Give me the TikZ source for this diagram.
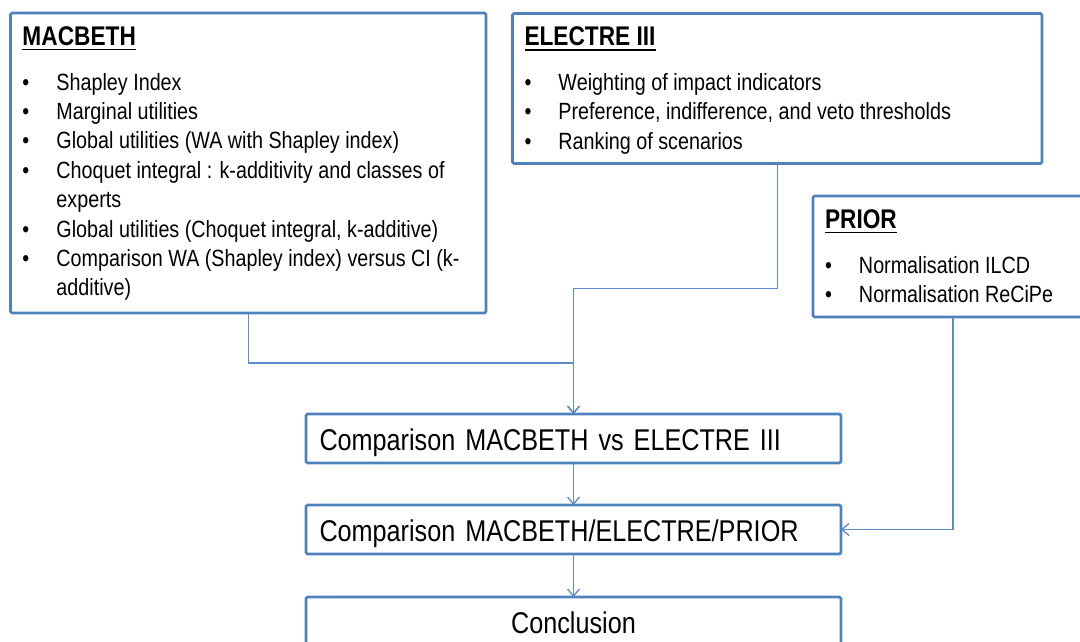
\documentclass[tikz,border=0pt]{standalone}
\usepackage{fontspec}
\setmainfont{Liberation Sans}[FakeStretch=0.84]
\usetikzlibrary{arrows.meta}

\definecolor{boxblue}{HTML}{4F81BD}
\definecolor{lineblue}{HTML}{5B8BC8}

% underlined bold heading of a panel
\newcommand{\uline}[1]{\setbox0\hbox{#1}\rlap{\rule[-5pt]{\wd0}{1.8pt}}\box0}
\newcommand{\heading}[1]{\noindent{\fontsize{27}{27}\selectfont\bfseries\uline{#1}}\par\vspace{15.3pt}}
\newcommand{\bul}[1]{\par\noindent\makebox[34pt][l]{\textbullet}\mbox{#1}}
\newcommand{\cont}[1]{\par\noindent\hspace*{34pt}\mbox{#1}}
\newcommand{\panelfont}{\fontsize{23.5}{29.4}\selectfont}
\newcommand{\stagefont}{\fontsize{30}{34}\selectfont\spaceskip=6.5pt\relax}

\tikzset{
  panel/.style={draw=boxblue, line width=2.7pt, rounded corners=1.5pt, fill=white,
    anchor=north west, outer sep=0pt, inner xsep=12pt, inner ysep=13.5pt},
  stage/.style={draw=boxblue, line width=2.7pt, rounded corners=1.5pt, fill=white,
    outer sep=0pt, inner xsep=13.5pt, inner ysep=0pt, text width=508pt,
    minimum height=49pt, text height=26pt, text depth=2pt, font=\stagefont},
  link/.style={draw=lineblue, line width=1.3pt, -{Straight Barb[length=7pt,width=12pt]}}
}

\begin{document}
\begin{tikzpicture}[x=1pt,y=-1pt]
    \useasboundingbox (0,0) rectangle (1080,642);

    \node [panel] (macbeth) at (10.5,13) {\parbox[t][273pt][t]{451.5pt}{\panelfont
        \heading{MACBETH}
        \bul{Shapley Index}
        \bul{Marginal utilities}
        \bul{Global utilities (WA with Shapley index)}
        \bul{Choquet integral : k-additivity and classes of}
        \cont{experts}
        \bul{Global utilities (Choquet integral, k-additive)}
        \bul{Comparison WA (Shapley index) versus CI (k-}
        \cont{additive)}}};

    \node [panel] (electre) at (512.5,13.5) {\parbox[t][123pt][t]{505.5pt}{\panelfont
        \heading{ELECTRE III}
        \bul{Weighting of impact indicators}
        \bul{Preference, indifference, and veto thresholds}
        \bul{Ranking of scenarios}}};

    \node [panel] (prior) at (813,196) {\parbox[t][94pt][t]{256pt}{\panelfont
        \heading{PRIOR}
        \bul{Normalisation ILCD}
        \bul{Normalisation ReCiPe}}};

    \node [stage] (cmp1) at (573.5,438.5) {Comparison MACBETH vs ELECTRE III};
    \node [stage] (cmp2) at (573.5,529.5) {Comparison MACBETH/ELECTRE/PRIOR};
    \node [stage, align=center] (concl) at (573.5,621.5) {Conclusion};

    \draw [link] (macbeth.south) -- ++(0,50) -| (cmp1.north);
    \draw [link] (electre.south) -- ++(0,125) -| (cmp1.north);
    \draw [link] (cmp1.south) -- (cmp2.north);
    \draw [link] (prior.south) |- (cmp2.east);
    \draw [link] (cmp2.south) -- (concl.north);
\end{tikzpicture}
\end{document}
